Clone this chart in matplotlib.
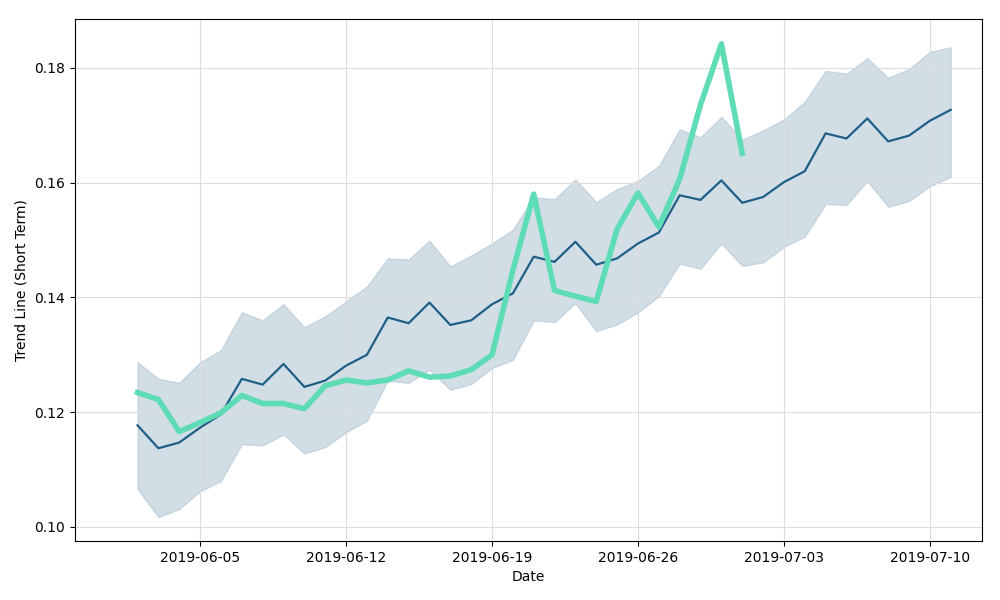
import matplotlib
matplotlib.use("Agg")
import matplotlib.pyplot as plt
import matplotlib.dates as mdates
import pandas as pd

dates = pd.date_range("2019-06-02", "2019-07-11", freq="D")
trend = [0.1177,0.1137,0.1147,0.1173,0.1196,0.1258,0.1248,0.1284,0.1244,0.1255,
         0.1281,0.1300,0.1365,0.1355,0.1391,0.1352,0.1360,0.1388,0.1407,0.1471,
         0.1462,0.1497,0.1457,0.1468,0.1494,0.1513,0.1578,0.1570,0.1604,0.1565,
         0.1575,0.1601,0.1620,0.1686,0.1677,0.1712,0.1672,0.1682,0.1708,0.1727]
upper = [0.1287,0.1258,0.1251,0.1287,0.1308,0.1374,0.1360,0.1388,0.1348,0.1367,
         0.1393,0.1419,0.1468,0.1466,0.1499,0.1454,0.1473,0.1494,0.1518,0.1575,
         0.1571,0.1606,0.1566,0.1589,0.1603,0.1629,0.1693,0.1679,0.1715,0.1675,
         0.1691,0.1710,0.1741,0.1795,0.1790,0.1817,0.1783,0.1798,0.1828,0.1836]
lower = [0.1066,0.1017,0.1031,0.1062,0.1080,0.1144,0.1142,0.1161,0.1128,0.1139,
         0.1165,0.1185,0.1255,0.1251,0.1274,0.1239,0.1249,0.1277,0.1291,0.1360,
         0.1357,0.1390,0.1341,0.1353,0.1374,0.1402,0.1459,0.1450,0.1494,0.1455,
         0.1461,0.1488,0.1506,0.1563,0.1561,0.1603,0.1558,0.1568,0.1594,0.1610]
actual = [0.1234,0.1222,0.1166,0.1182,0.1199,0.1229,0.1215,0.1215,0.1206,0.1246,
          0.1256,0.1251,0.1256,0.1272,0.1261,0.1263,0.1274,0.1300,0.1447,0.1580,
          0.1412,0.1402,0.1393,0.1519,0.1582,0.1523,0.1606,0.1736,0.1842,0.1651]

fig, ax = plt.subplots(figsize=(10, 6), dpi=100)
ax.fill_between(dates, lower, upper, color="#a7bfcf", alpha=0.5)
ax.plot(dates, trend, color="#1f5f85", lw=1.6)
ax.plot(dates[:len(actual)], actual, color="#5ddcb6", lw=4)
ax.set_ylim(0.0975, 0.1885)
ax.set_xlim(pd.Timestamp("2019-05-30"), pd.Timestamp("2019-07-12 12:00"))
ax.xaxis.set_major_locator(mdates.DayLocator(bymonthday=[5, 12, 19, 26, 3, 10]))
ax.xaxis.set_major_formatter(mdates.DateFormatter("%Y-%m-%d"))
ax.set_xticks(pd.to_datetime(["2019-06-05","2019-06-12","2019-06-19","2019-06-26","2019-07-03","2019-07-10"]))
ax.set_yticks([0.10, 0.12, 0.14, 0.16, 0.18])
ax.grid(True, color="#dddddd", lw=0.8)
ax.set_xlabel("Date")
ax.set_ylabel("Trend Line (Short Term)")
fig.subplots_adjust(left=0.075, right=0.982, top=0.968, bottom=0.098)
fig.savefig("out.png")
